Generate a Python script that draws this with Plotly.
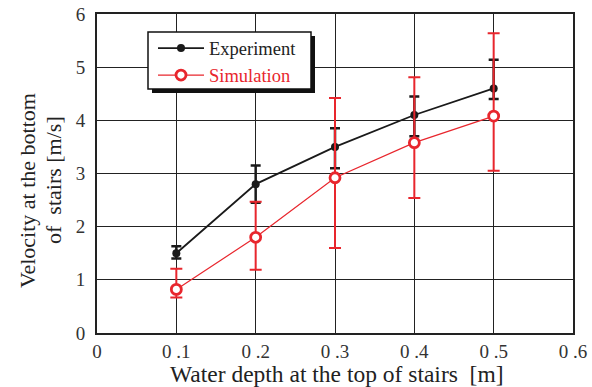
import plotly.graph_objects as go

# Water depth at top of stairs [m]
depth = [0.1, 0.2, 0.3, 0.4, 0.5]

# Measured velocity at bottom of stairs [m/s] with error ranges
exp_velocity = [1.50, 2.80, 3.50, 4.10, 4.60]
exp_err_plus = [0.13, 0.35, 0.35, 0.35, 0.54]
exp_err_minus = [0.10, 0.35, 0.40, 0.40, 0.20]

# Simulated velocity [m/s] with error ranges
sim_velocity = [0.82, 1.80, 2.92, 3.58, 4.08]
sim_err_plus = [0.39, 0.67, 1.50, 1.23, 1.56]
sim_err_minus = [0.15, 0.61, 1.32, 1.04, 1.03]

x_tick_vals = [0, 0.1, 0.2, 0.3, 0.4, 0.5, 0.6]
x_tick_text = ["0", "0 .1", "0 .2", "0 .3", "0 .4", "0 .5", "0 .6"]
y_tick_vals = [0, 1, 2, 3, 4, 5, 6]

RED = "#e8262d"
FONT = "'Liberation Serif', 'Times New Roman', serif"

# plot area in pixels
L, R, T, B = 97, 573, 14, 333
W, H = R - L, B - T


def px_x(p):
    return (p - L) / W


def px_y(p):
    return (B - p) / H


fig = go.Figure()

fig.add_trace(go.Scatter(
    x=depth, y=exp_velocity, name="Experiment",
    mode="lines+markers",
    line=dict(color="#1a1a1a", width=1.8),
    marker=dict(symbol="circle", size=8, color="#1a1a1a"),
    error_y=dict(type="data", symmetric=False,
                 array=exp_err_plus, arrayminus=exp_err_minus,
                 color="#1a1a1a", thickness=2.5, width=5),
))

fig.add_trace(go.Scatter(
    x=depth, y=sim_velocity,
    name="<span style='color:%s'>Simulation</span>" % RED,
    mode="lines+markers",
    line=dict(color=RED, width=1.2),
    marker=dict(symbol="circle", size=10, color="white",
                line=dict(color=RED, width=2.8)),
    error_y=dict(type="data", symmetric=False,
                 array=sim_err_plus, arrayminus=sim_err_minus,
                 color=RED, thickness=2, width=6),
))

# legend frame with a drop shadow
fig.add_shape(type="rect", xref="paper", yref="paper",
              x0=px_x(152), x1=px_x(315), y0=px_y(93), y1=px_y(36),
              fillcolor="#111111", line=dict(width=0), layer="above")
fig.add_shape(type="rect", xref="paper", yref="paper",
              x0=px_x(148), x1=px_x(311), y0=px_y(89), y1=px_y(32),
              fillcolor="white", line=dict(color="#111111", width=1.5),
              layer="above")

# axis titles
fig.add_annotation(text="Velocity at the bottom", textangle=-90,
                   xref="paper", yref="paper", x=px_x(27), y=px_y(191),
                   xanchor="center", yanchor="middle", showarrow=False,
                   font=dict(family=FONT, size=22, color="#222222"))
fig.add_annotation(text="of  stairs [m/s]", textangle=-90,
                   xref="paper", yref="paper", x=px_x(53), y=px_y(180),
                   xanchor="center", yanchor="middle", showarrow=False,
                   font=dict(family=FONT, size=22, color="#222222"))
fig.add_annotation(text="Water depth at the top of stairs  [m]",
                   xref="paper", yref="paper", x=px_x(336.5), y=px_y(374),
                   xanchor="center", yanchor="middle", showarrow=False,
                   font=dict(family=FONT, size=23.5, color="#222222"))

fig.update_layout(
    width=592, height=387,
    margin=dict(l=L, r=592 - R, t=T, b=387 - B, autoexpand=False),
    paper_bgcolor="white", plot_bgcolor="white",
    font=dict(family=FONT, color="#222222", size=16),
    showlegend=True,
    legend=dict(
        x=px_x(153), y=px_y(29.5),
        xanchor="left", yanchor="top",
        bgcolor="rgba(0,0,0,0)", borderwidth=0,
        font=dict(family=FONT, size=18.5, color="#222222"),
        itemwidth=46, tracegroupgap=0,
    ),
    xaxis=dict(
        range=[0, 0.6], tickvals=x_tick_vals, ticktext=x_tick_text,
        showgrid=True, gridcolor="#222222", gridwidth=1.2,
        showline=True, linecolor="#222222", linewidth=2, mirror=True,
        zeroline=False, ticks="", ticklen=0, automargin=False,
        tickfont=dict(family=FONT, size=19, color="#333333"),
    ),
    yaxis=dict(
        range=[0, 6], tickvals=y_tick_vals,
        showgrid=True, gridcolor="#222222", gridwidth=1.2,
        showline=True, linecolor="#222222", linewidth=2, mirror=True,
        zeroline=False, ticks="", ticklen=0, automargin=False,
        ticklabelstandoff=6,
        tickfont=dict(family=FONT, size=19, color="#333333"),
    ),
)

fig.write_html("out.html")
